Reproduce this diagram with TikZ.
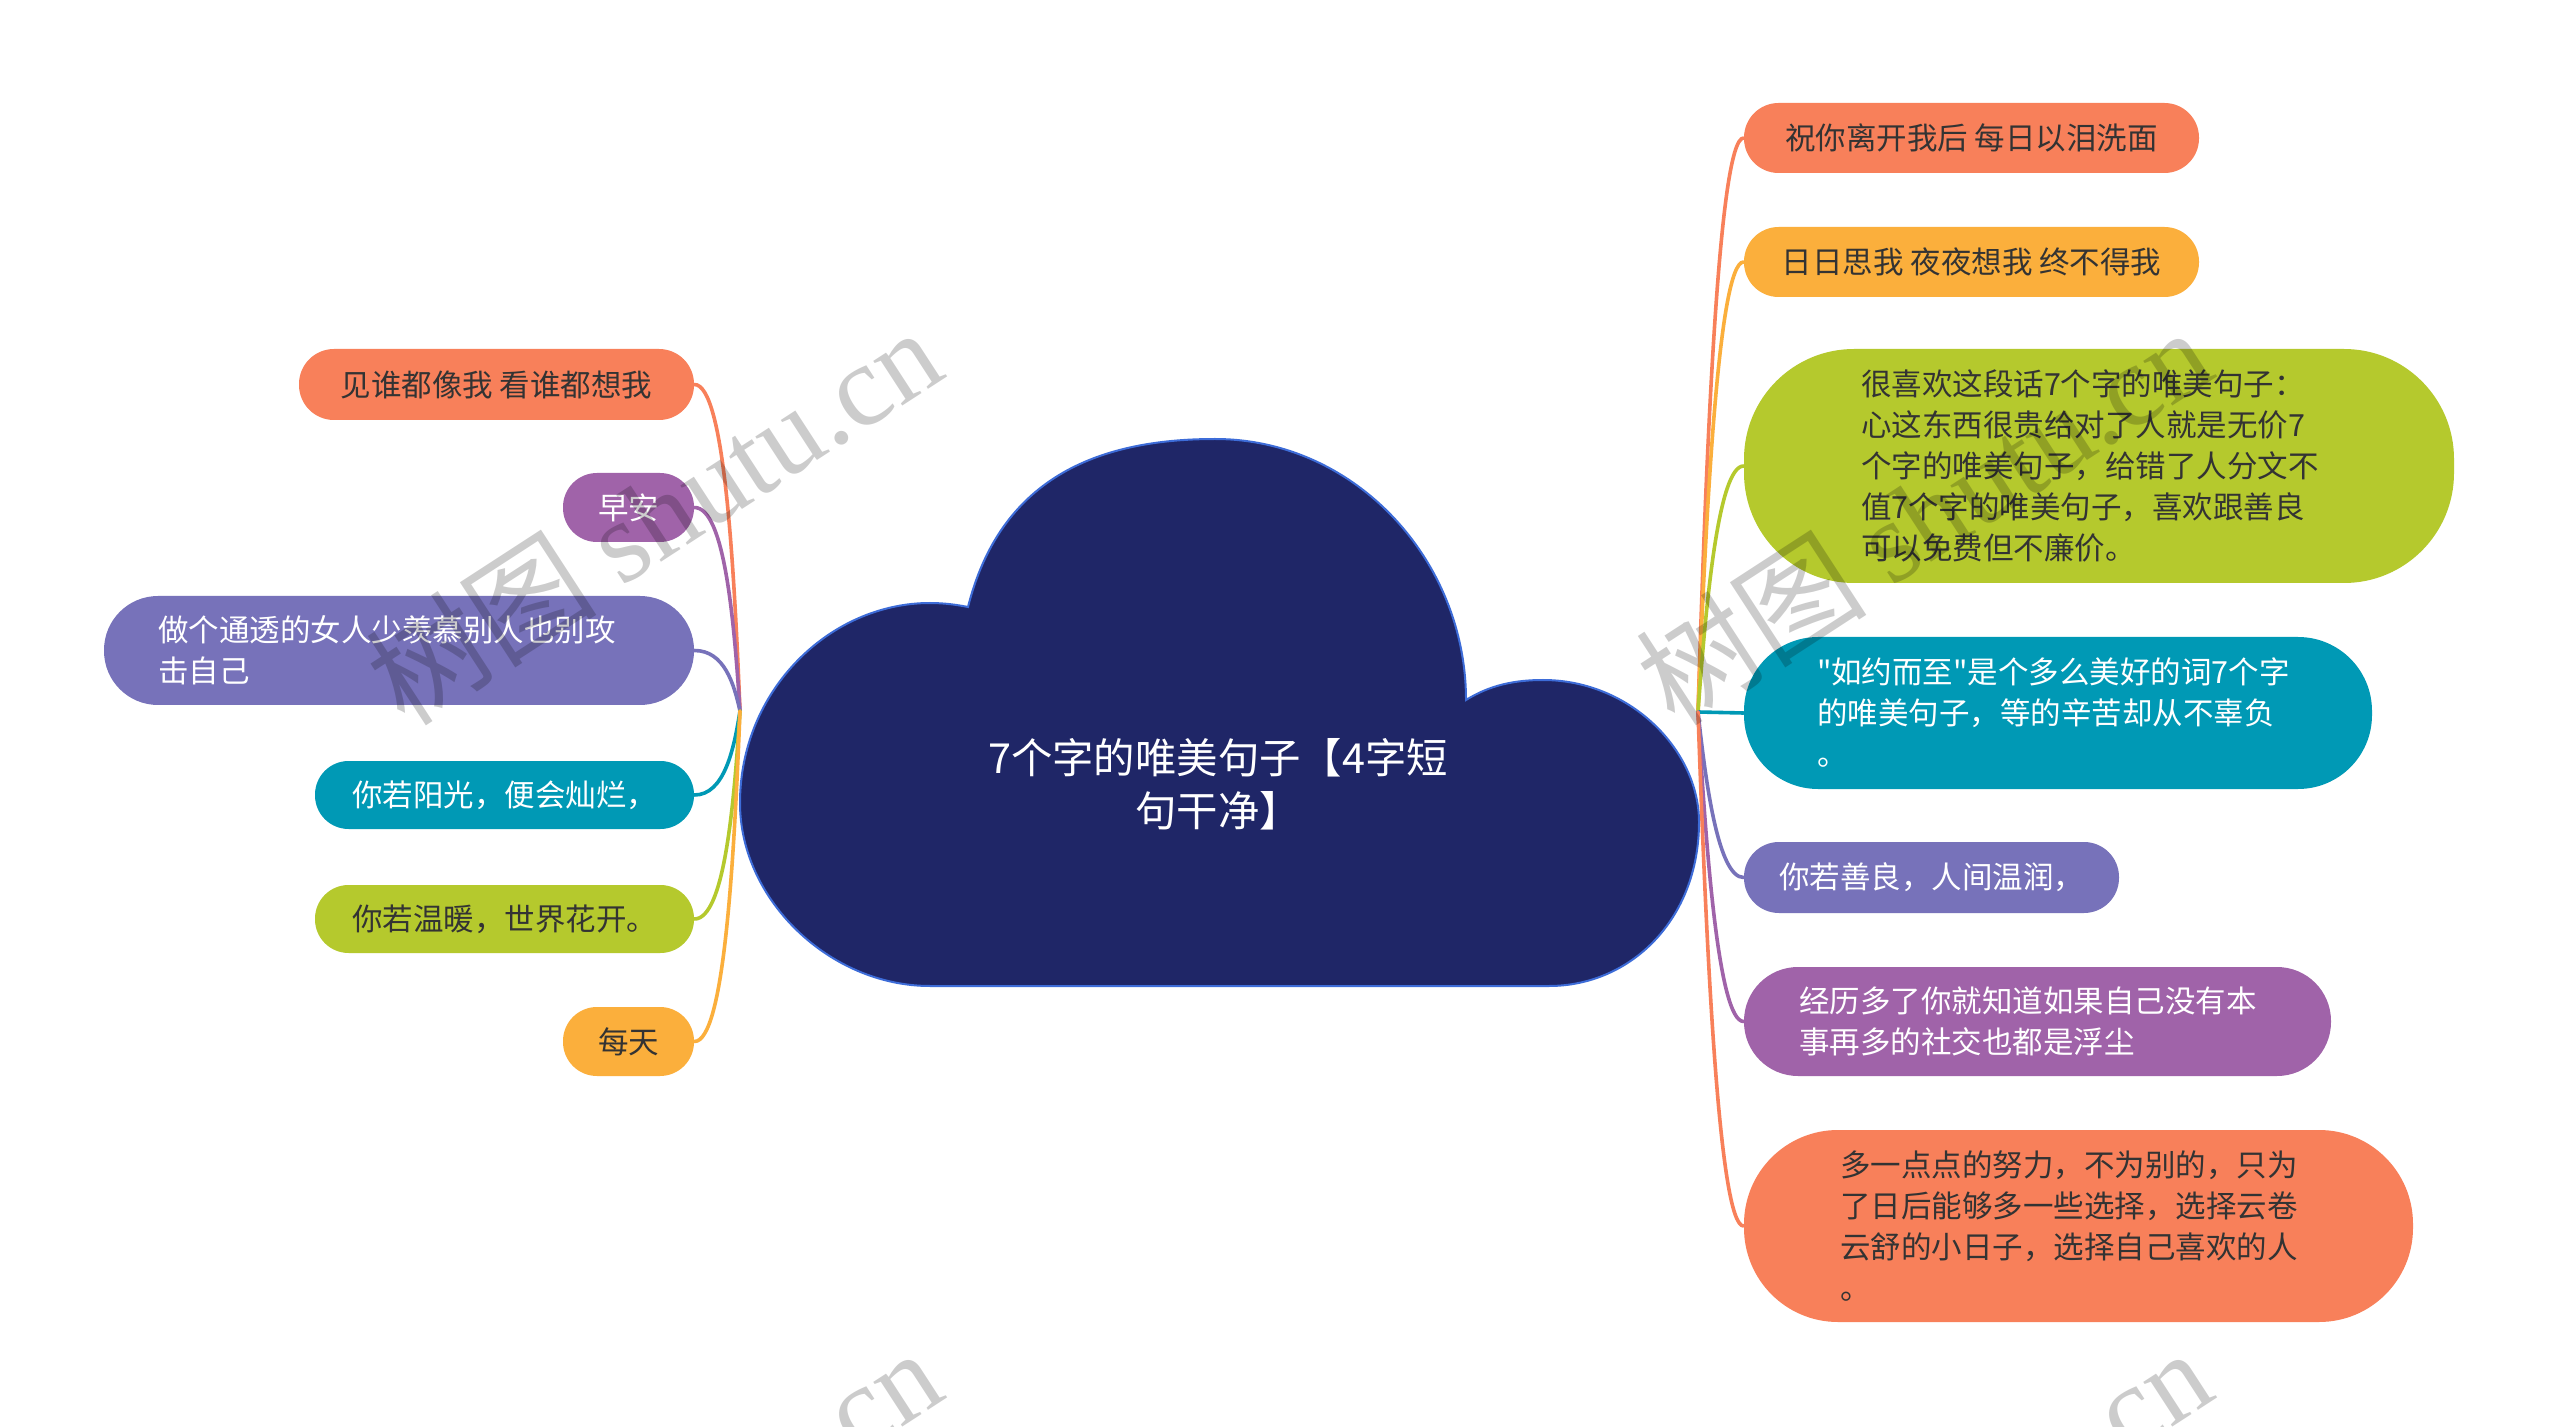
\documentclass[tikz,border=0pt]{standalone}
\usepackage{fontspec}
\setmainfont{Noto Sans CJK SC}
\newfontfamily\plainq{Noto Sans CJK SC}
\newfontfamily\wmlat{Liberation Serif}
\definecolor{cOr}{HTML}{F8805A}
\definecolor{cYe}{HTML}{FBAF3C}
\definecolor{cGr}{HTML}{B5C92D}
\definecolor{cTe}{HTML}{0099B5}
\definecolor{cVi}{HTML}{7772BA}
\definecolor{cPu}{HTML}{A063A9}
\definecolor{cNavy}{HTML}{1F2667}
\definecolor{cEdge}{HTML}{3D6CD8}
\definecolor{cTxt}{HTML}{333333}
\tikzset{
  pillbox/.style={fill=#1, draw=none, inner ysep=0pt, inner xsep=0pt,
    font=\fontsize{15.25pt}{20.5pt}\selectfont},
  dark/.style={text=cTxt},
  light/.style={text=white},
  conn/.style={draw=#1, line width=1.8pt, line cap=round},
  wmark/.style={rotate=33, text=black, text opacity=0.2,
    font=\fontsize{58pt}{58pt}\selectfont, inner sep=0pt},
}
\begin{document}
\begin{tikzpicture}[x=0.5pt, y=-0.5pt]
\useasboundingbox (0,0) rectangle (2560,1427);
\fill[white] (0,0) rectangle (2560,1427);

% hubs
\coordinate (hubL) at (740,711);
\coordinate (hubR) at (1698,712);

% left nodes
\node[pillbox=cOr, dark, minimum width=197.5pt, minimum height=35.5pt, rounded corners=17.5pt] (L1) at (496.5,384.5) {见谁都像我 看谁都想我};
\node[pillbox=cPu, light, minimum width=65.5pt, minimum height=34.5pt, rounded corners=17pt] (L2) at (628.5,507.5) {早安};
\node[pillbox=cVi, light, inner xsep=27pt, text width=241pt, align=left, minimum height=54.5pt, rounded corners=27pt] (L3) at (399,650.5) {做个通透的女人少羡慕别人也别攻\\击自己};
\node[pillbox=cTe, light, minimum width=189.5pt, minimum height=34pt, rounded corners=16.8pt] (L4) at (504.5,795) {你若阳光，便会灿烂，};
\node[pillbox=cGr, dark, minimum width=189.5pt, minimum height=34pt, rounded corners=16.8pt] (L5) at (504.5,919) {你若温暖，世界花开。};
\node[pillbox=cYe, dark, minimum width=65.5pt, minimum height=34.5pt, rounded corners=17pt] (L6) at (628.5,1041.5) {每天};

% right nodes
\node[pillbox=cOr, dark, minimum width=227.5pt, minimum height=35pt, rounded corners=17.3pt] (R1) at (1971.5,138) {祝你离开我后 每日以泪洗面};
\node[pillbox=cYe, dark, minimum width=227.5pt, minimum height=35pt, rounded corners=17.3pt] (R2) at (1971.5,262) {日日思我 夜夜想我 终不得我};
\node[pillbox=cGr, dark, inner xsep=58.5pt, text width=238pt, align=left, minimum height=117pt, rounded corners=55pt] (R3) at (2099,466) {很喜欢这段话7个字的唯美句子：\\心这东西很贵给对了人就是无价7\\个字的唯美句子，给错了人分文不\\值7个字的唯美句子，喜欢跟善良\\可以免费但不廉价。};
\node[pillbox=cTe, light, inner xsep=36.5pt, text width=241pt, align=left, minimum height=76pt, rounded corners=37pt] (R4) at (2058,713) {{\plainq"}如约而至{\plainq"}是个多么美好的词7个字\\的唯美句子，等的辛苦却从不辜负\\。};
\node[pillbox=cVi, light, minimum width=187.5pt, minimum height=35.5pt, rounded corners=17.5pt] (R5) at (1931.5,877.5) {你若善良，人间温润，};
\node[pillbox=cPu, light, inner xsep=27.5pt, text width=238.5pt, align=left, minimum height=54.5pt, rounded corners=27pt] (R6) at (2037.5,1021.5) {经历多了你就知道如果自己没有本\\事再多的社交也都是浮尘};
\node[pillbox=cOr, dark, inner xsep=48pt, text width=238.5pt, align=left, minimum height=96pt, rounded corners=47pt] (R7) at (2078.5,1226) {多一点点的努力，不为别的，只为\\了日后能够多一些选择，选择云卷\\云舒的小日子，选择自己喜欢的人\\。};

% connectors
\draw[conn=cOr] (hubL) .. controls +(-6,-147) and +(30,0) .. (L1.east);
\draw[conn=cPu] (hubL) .. controls +(-6,-92) and +(30,0) .. (L2.east);
\draw[conn=cVi] (hubL) .. controls +(-6,-27) and +(30,0) .. (L3.east);
\draw[conn=cTe] (hubL) .. controls +(-6,38) and +(30,0) .. (L4.east);
\draw[conn=cGr] (hubL) .. controls +(-6,94) and +(30,0) .. (L5.east);
\draw[conn=cYe] (hubL) .. controls +(-6,149) and +(30,0) .. (L6.east);

\draw[conn=cOr] (hubR) .. controls +(8,-258) and +(-25,0) .. (R1.west);
\draw[conn=cYe] (hubR) .. controls +(8,-202) and +(-25,0) .. (R2.west);
\draw[conn=cGr] (hubR) .. controls +(8,-111) and +(-25,0) .. (R3.west);
\draw[conn=cTe] (hubR) -- (R4.west);
\draw[conn=cVi] (hubR) .. controls +(8,74) and +(-25,0) .. (R5.west);
\draw[conn=cPu] (hubR) .. controls +(8,139) and +(-25,0) .. (R6.west);
\draw[conn=cOr] (hubR) .. controls +(8,231) and +(-25,0) .. (R7.west);

% cloud
\filldraw[fill=cNavy, draw=cEdge, line width=1pt]
  (930,986) .. controls (830,986) and (740,900) .. (740,803)
  .. controls (740,690) and (830,603) .. (930,603)
  .. controls (945,603) and (958,605) .. (968,607)
  .. controls (1000,480) and (1095,439) .. (1215,439)
  .. controls (1355,439) and (1466,560) .. (1466,700)
  .. controls (1490,685) and (1515,680) .. (1543,680)
  .. controls (1630,680) and (1699,750) .. (1699,822)
  .. controls (1699,920) and (1630,986) .. (1549,986)
  -- cycle;
\node[text=white, align=center, font=\fontsize{20.7pt}{26.5pt}\selectfont] (title) at (1218,784) {7个字的唯美句子【4字短\\句干净】};

% watermarks
\node[wmark] (wm1) at (653,515) {树图 {\wmlat shutu.cn}};
\node[wmark] (wm2) at (1923,515) {树图 {\wmlat shutu.cn}};
\node[wmark] (wm3) at (653,1536) {树图 {\wmlat shutu.cn}};
\node[wmark] (wm4) at (1923,1536) {树图 {\wmlat shutu.cn}};
\end{tikzpicture}
\end{document}
